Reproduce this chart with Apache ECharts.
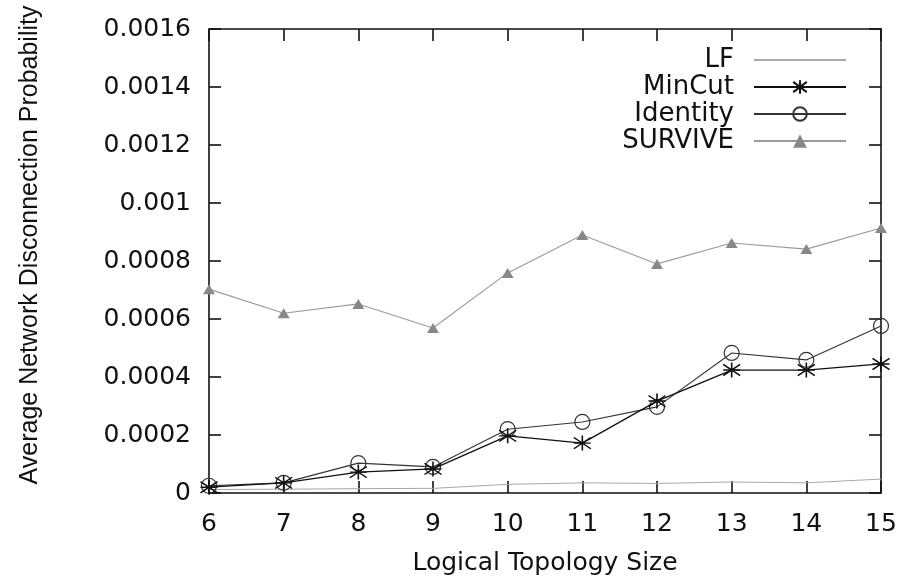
<!DOCTYPE html>
<html>
<head>
<meta charset="utf-8">
<script src="https://cdn.jsdelivr.net/npm/echarts@6/dist/echarts.min.js"></script>
<style>
html,body{margin:0;padding:0;background:#fff;}
#chart{width:904px;height:581px;}
</style>
</head>
<body>
<div id="chart"></div>
<script>
const xValues = [6, 7, 8, 9, 10, 11, 12, 13, 14, 15];
const lfValues = [0.000012, 0.000013, 0.000015, 0.000016, 0.00003, 0.000035, 0.000033, 0.000038, 0.000035, 0.000048];
const minCutValues = [0.00002, 0.000035, 0.000072, 0.000083, 0.000197, 0.000172, 0.000317, 0.000424, 0.000424, 0.000445];
const identityValues = [0.000025, 0.000035, 0.000103, 0.00009, 0.00022, 0.000245, 0.000297, 0.000483, 0.000459, 0.000576];
const surviveValues = [0.000703, 0.00062, 0.000652, 0.000569, 0.000759, 0.00089, 0.00079, 0.000862, 0.000841, 0.000914];
const seriesNames = ['LF', 'MinCut', 'Identity', 'SURVIVE'];
const xTickLabels = ['6', '7', '8', '9', '10', '11', '12', '13', '14', '15'];
const yTickLabels = ['0', '0.0002', '0.0004', '0.0006', '0.0008', '0.001', '0.0012', '0.0014', '0.0016'];
const xTitle = 'Logical Topology Size';
const yTitle = 'Average Network Disconnection Probability';

function pairs(vals) { return xValues.map((x, i) => [x, vals[i]]); }

const chart = echarts.init(document.getElementById('chart'), null, {renderer: 'canvas'});
const labelFont = {fontFamily: 'DejaVu Sans', fontSize: 25, color: '#111'};
const asterisk = 'path://M0,-1L0,1M-1,0L1,0M-1,-0.75L1,0.75M-1,0.75L1,-0.75';

chart.setOption({
  animation: false,
  backgroundColor: '#fff',
  grid: {left: 209, right: 23, top: 29, bottom: 87},
  xAxis: [{
    type: 'value', min: 6, max: 15, interval: 1, position: 'bottom',
    axisLine: {show: true, onZero: false, lineStyle: {color: '#111', width: 1.6}},
    axisTick: {show: true, inside: true, length: 12, lineStyle: {color: '#111', width: 1.6}},
    axisLabel: Object.assign({margin: 19, formatter: v => xTickLabels[Math.round(v - 6)]}, labelFont),
    splitLine: {show: false},
    name: xTitle, nameLocation: 'middle', nameGap: 58,
    nameTextStyle: {fontFamily: 'DejaVu Sans', fontSize: 25, color: '#111'}
  }, {
    type: 'value', min: 6, max: 15, interval: 1, position: 'top',
    axisLine: {show: true, onZero: false, lineStyle: {color: '#111', width: 1.6}},
    axisTick: {show: true, inside: true, length: 12, lineStyle: {color: '#111', width: 1.6}},
    axisLabel: {show: false}, splitLine: {show: false}
  }],
  yAxis: [{
    type: 'value', min: 0, max: 0.0016, interval: 0.0002, position: 'left',
    axisLine: {show: true, onZero: false, lineStyle: {color: '#111', width: 1.6}},
    axisTick: {show: true, inside: true, length: 12, lineStyle: {color: '#111', width: 1.6}},
    axisLabel: Object.assign({margin: 18, formatter: v => yTickLabels[Math.round(v / 0.0002)]}, labelFont),
    splitLine: {show: false}
  }, {
    type: 'value', min: 0, max: 0.0016, interval: 0.0002, position: 'right',
    axisLine: {show: true, onZero: false, lineStyle: {color: '#111', width: 1.6}},
    axisTick: {show: true, inside: true, length: 12, lineStyle: {color: '#111', width: 1.6}},
    axisLabel: {show: false}, splitLine: {show: false}
  }],
  legend: {
    orient: 'vertical', right: 52, top: 42, align: 'right',
    itemWidth: 92, itemHeight: 17, itemGap: 1,
    textStyle: {fontFamily: 'DejaVu Sans', fontSize: 26, color: '#111', lineHeight: 26, padding: [0, 15, 0, 0]},
    data: [
      {name: seriesNames[0], itemStyle: {color: 'rgba(0,0,0,0)', borderWidth: 0, opacity: 0}},
      seriesNames[1], seriesNames[2], seriesNames[3]
    ]
  },
  graphic: [{
    type: 'text', x: 30, y: 245, rotation: Math.PI / 2,
    style: {text: yTitle, fontFamily: 'Liberation Sans', fontSize: 25, fill: '#111', align: 'center', verticalAlign: 'middle'}
  }],
  series: [{
    name: seriesNames[0], type: 'line', data: pairs(lfValues),
    symbol: 'none', showSymbol: false,
    lineStyle: {color: '#a8a8a8', width: 1},
    itemStyle: {color: '#a8a8a8'}, z: 2
  }, {
    name: seriesNames[1], type: 'line', data: pairs(minCutValues),
    symbol: asterisk, symbolSize: [17, 15],
    lineStyle: {color: '#111', width: 1.3},
    itemStyle: {color: '#111', borderColor: '#111', borderWidth: 1.5}, z: 4
  }, {
    name: seriesNames[2], type: 'line', data: pairs(identityValues),
    symbol: 'circle', symbolSize: 15,
    lineStyle: {color: '#333', width: 1.1},
    itemStyle: {color: 'rgba(255,255,255,0)', borderColor: '#333', borderWidth: 1.2}, z: 3
  }, {
    name: seriesNames[3], type: 'line', data: pairs(surviveValues),
    symbol: 'triangle', symbolSize: [12, 10],
    lineStyle: {color: '#9a9a9a', width: 1.1},
    itemStyle: {color: '#888'}, z: 2
  }]
});
</script>
</body>
</html>
